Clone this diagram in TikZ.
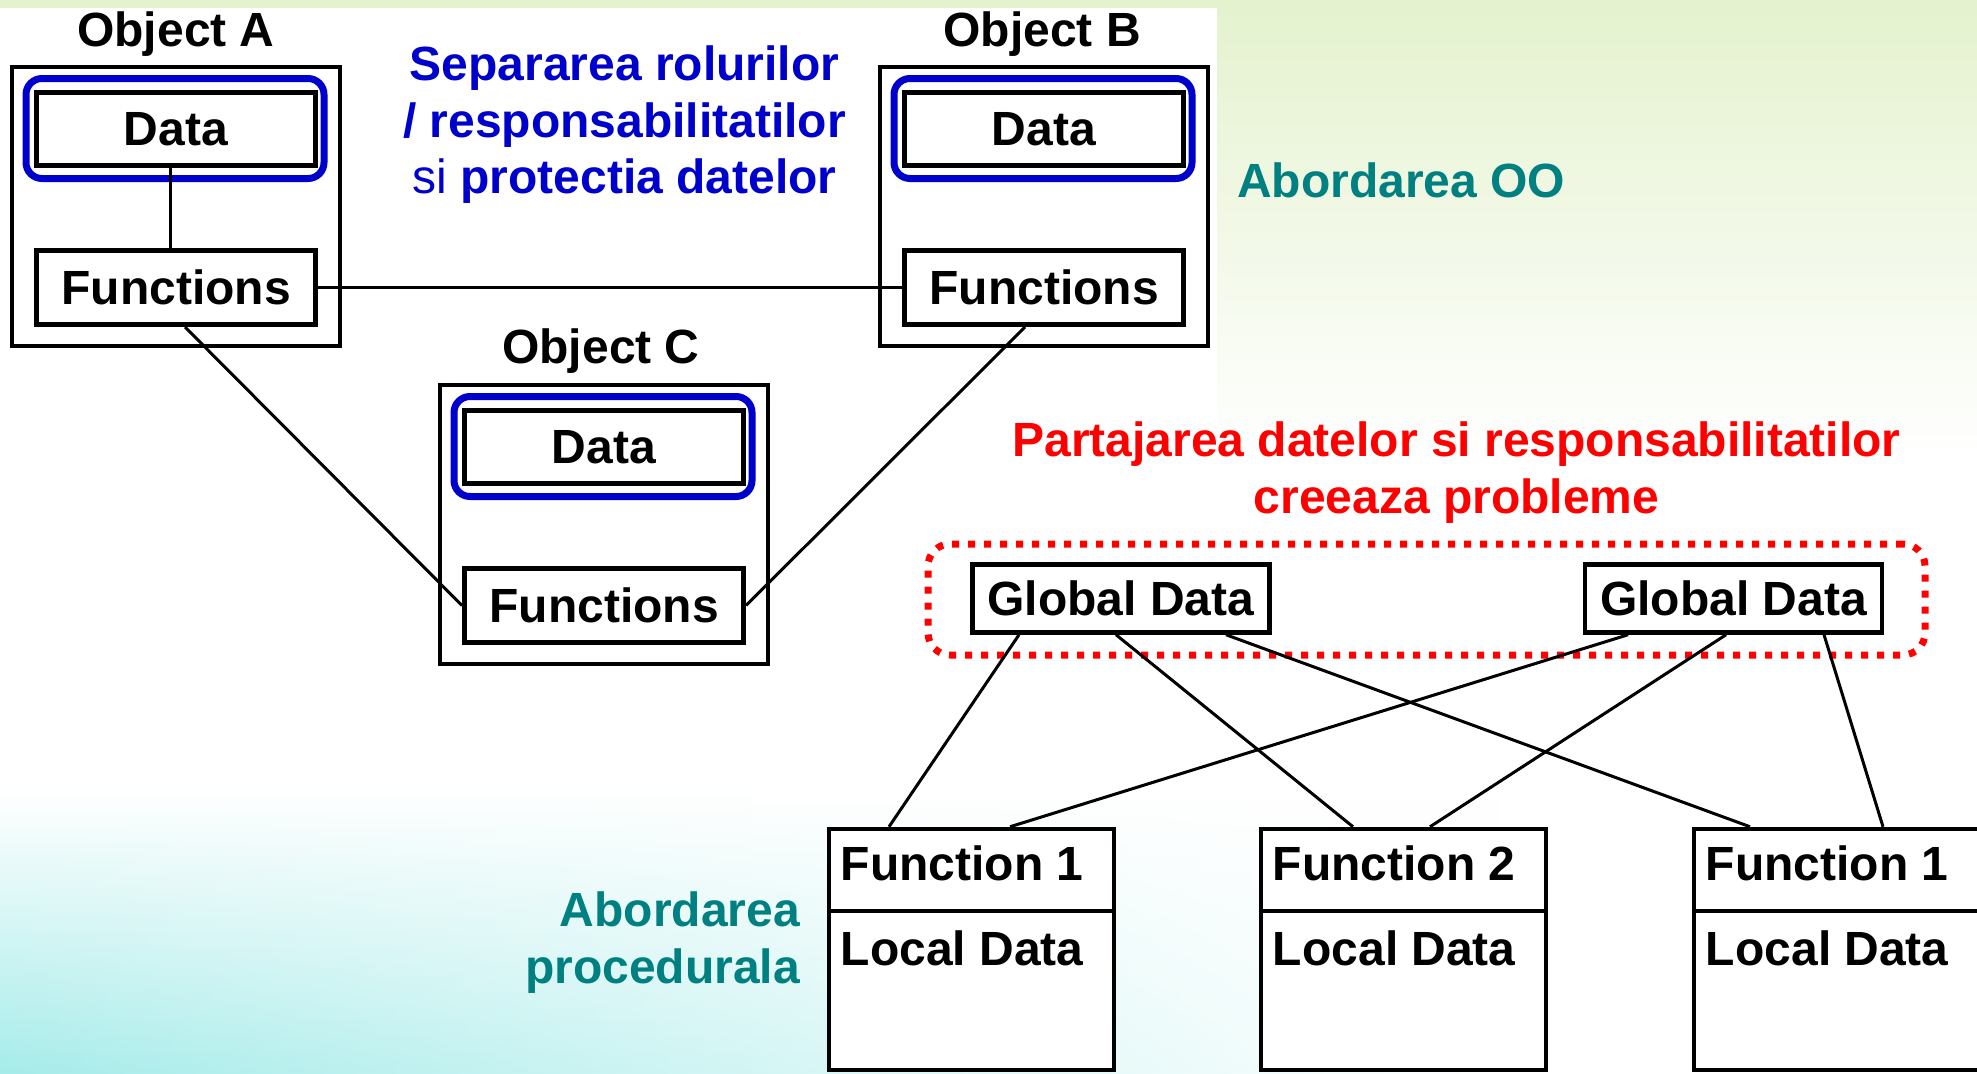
\documentclass[tikz,border=0pt]{standalone}
\usepackage{fontspec}
\setmainfont{Liberation Sans}
\usetikzlibrary{calc,fadings}

\definecolor{roleblue}{RGB}{0,0,204}
\definecolor{ooteal}{RGB}{0,128,128}
\definecolor{warnred}{RGB}{255,0,0}
\definecolor{washgreen}{RGB}{228,242,206}
\definecolor{washcyan}{RGB}{166,236,234}

\tikzset{
  big/.style={font=\fontsize{48}{57}\selectfont\bfseries},
  caption/.style={big, inner sep=0, anchor=base},
  objframe/.style={draw, line width=4pt, inner sep=0, minimum width=328, minimum height=279},
  part/.style={draw, line width=5pt, fill=white, inner sep=0, big, text height=34pt, text depth=0pt, minimum width=279},
  guard/.style={draw=roleblue, line width=7pt, rounded corners=16pt, inner sep=0, minimum width=298, minimum height=100},
  link/.style={line width=3pt},
  globalbox/.style={draw, line width=4.5pt, fill=white, inner sep=0, big, text height=34pt, text depth=0pt, minimum width=297, minimum height=68},
  fhead/.style={draw, line width=4.5pt, fill=white, inner sep=0, minimum width=285, minimum height=82},
  fbody/.style={draw, line width=4.5pt, fill=white, inner sep=0, minimum width=285, minimum height=159},
  ftext/.style={big, inner sep=0, anchor=base west},
  sharedzone/.style={draw=warnred, line width=7pt, dash pattern=on 7pt off 9pt, rounded corners=22pt, inner sep=0, minimum width=997, minimum height=111},
}

\begin{document}
\begin{tikzpicture}[x=1pt,y=-1pt]
\useasboundingbox (0,0) rectangle (1977,1073);
\clip (0,0) rectangle (1977,1073);

% background washes
\fill[white] (0,0) rectangle (1977,1073);
\shade[top color=washgreen, bottom color=white] (0,0) rectangle (1977,460);
\fill[white] (0,8) rectangle (1217,760);
\shade[top color=white, bottom color=washcyan, path fading=east] (0,790) rectangle (1500,1073);

% ---------- object oriented approach ----------
\begin{scope}[shift={(176,206.5)}]
  \node[objframe] (objA) at (0,0) {};
  \node[guard] (ringA) at (-1,-78) {};
  \node[part, minimum height=73] (dataA) at (0,-78) {Data};
  \node[part, minimum height=74] (funA) at (0,81) {Functions};
\end{scope}
\node[caption] (capA) at (176,47) {Object A};

\begin{scope}[shift={(1044,206.5)}]
  \node[objframe] (objB) at (0,0) {};
  \node[guard] (ringB) at (-1,-78) {};
  \node[part, minimum height=73] (dataB) at (0,-78) {Data};
  \node[part, minimum height=74] (funB) at (0,81) {Functions};
\end{scope}
\node[caption] (capB) at (1042,47) {Object B};

\begin{scope}[shift={(604,524.5)}]
  \node[objframe] (objC) at (0,0) {};
  \node[guard] (ringC) at (-1,-78) {};
  \node[part, minimum height=73] (dataC) at (0,-78) {Data};
  \node[part, minimum height=74] (funC) at (0,81) {Functions};
\end{scope}
\node[caption] (capC) at (601,363) {Object C};

\draw[link] ([xshift=-6pt]dataA.south) -- ([xshift=-6pt]funA.north);
\draw[link] (funA.east) -- (funB.west);
\draw[link] ([xshift=9pt]funA.south) -- (funC.west);
\draw[link] ([xshift=-19pt]funB.south) -- (funC.east);

\node[caption, text=roleblue] (sepA) at (624.5,80) {Separarea rolurilor};
\node[caption, text=roleblue] (sepB) at (624.5,137) {/ responsabilitatilor};
\node[caption, text=roleblue] (sepC) at (624.5,193) {{\mdseries si} protectia datelor};
\node[caption, text=ooteal, anchor=base west] (ooA) at (1237,197) {Abordarea OO};

% ---------- procedural approach ----------
\node[caption, text=warnred] (warnA) at (1456.5,456) {Partajarea datelor si responsabilitatilor};
\node[caption, text=warnred] (warnB) at (1456.5,513) {creeaza probleme};

\node[sharedzone] (zone) at (1426.5,599.5) {};
\node[globalbox] (gd1) at (1121,598.5) {Global Data};
\node[globalbox] (gd2) at (1733.5,598.5) {Global Data};

\node[fhead] (h1) at (971.5,870) {};
\node[fbody] (b1) at (971.5,990.5) {};
\node[fhead] (h2) at (1403.5,870) {};
\node[fbody] (b2) at (1403.5,990.5) {};
\node[fhead] (h3) at (1836.5,870) {};
\node[fbody] (b3) at (1836.5,990.5) {};

\node[ftext] (t1) at ($(h1.west)+(14,10)$) {Function 1};
\node[ftext] (l1) at ($(b1.north west)+(14,57)$) {Local Data};
\node[ftext] (t2) at ($(h2.west)+(14,10)$) {Function 2};
\node[ftext] (l2) at ($(b2.north west)+(14,57)$) {Local Data};
\node[ftext] (t3) at ($(h3.west)+(14,10)$) {Function 1};
\node[ftext] (l3) at ($(b3.north west)+(14,57)$) {Local Data};

\draw[link] ([xshift=-102pt]gd1.south) -- ([xshift=-82.5pt]h1.north);
\draw[link] ([xshift=-5pt]gd1.south) -- ([xshift=-50.5pt]h2.north);
\draw[link] ([xshift=105pt]gd1.south) -- ([xshift=-86.5pt]h3.north);
\draw[link] ([xshift=-105.5pt]gd2.south) -- ([xshift=38.5pt]h1.north);
\draw[link] ([xshift=-7.5pt]gd2.south) -- ([xshift=26.5pt]h2.north);
\draw[link] ([xshift=90.5pt]gd2.south) -- ([xshift=46.5pt]h3.north);

\node[caption, text=ooteal, anchor=base east] (procA) at (800,926) {Abordarea};
\node[caption, text=ooteal, anchor=base east] (procB) at (800,983) {procedurala};
\end{tikzpicture}
\end{document}
